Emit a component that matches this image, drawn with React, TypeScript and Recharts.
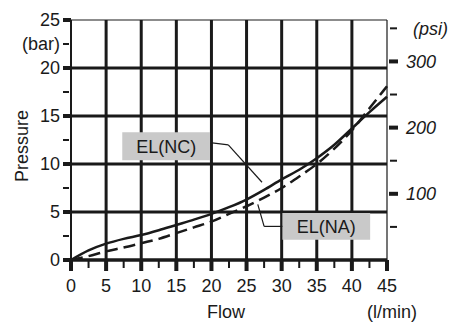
import React from 'react';
import {
  ComposedChart,
  Line,
  XAxis,
  YAxis,
  CartesianGrid,
  ReferenceArea,
  ReferenceLine,
  Label
} from 'recharts';

// flow (l/min) vs pressure drop (bar)
const flow = [0, 2.5, 5, 7.5, 10, 12.5, 15, 17.5, 20, 22.5, 25, 27.5, 30, 32.5, 35, 37.5, 40, 42.5, 45];
const elNC = [0, 1.0, 1.7, 2.2, 2.6, 3.1, 3.65, 4.2, 4.8, 5.5, 6.3, 7.3, 8.4, 9.4, 10.6, 12.0, 13.7, 15.4, 17.0];
const elNA = [0, 0.4, 0.9, 1.3, 1.75, 2.2, 2.8, 3.4, 4.0, 4.8, 5.6, 6.5, 7.5, 8.7, 10.0, 11.6, 13.5, 15.8, 18.1];

const flowTicks = [0, 2.5, 5, 7.5, 10, 12.5, 15, 17.5, 20, 22.5, 25, 27.5, 30, 32.5, 35, 37.5, 40, 42.5, 45];
const barTicks = [0, 2.5, 5, 7.5, 10, 12.5, 15, 17.5, 20, 22.5, 25];
const psiTicks = [50, 100, 150, 200, 250, 300, 350];
const gridFlow = [5, 10, 15, 20, 25, 30, 35, 40];
const gridBar = [5, 10, 15, 20];

const BAR_TO_PSI = 14.5038;

const data = flow.map((f, i) => ({
  flow: f,
  nc: elNC[i],
  na: elNA[i],
  ncPsi: elNC[i] * BAR_TO_PSI
}));

const FONT = '"Liberation Sans", Arial, sans-serif';
const INK = '#1a1a1a';
const FS = 18;

const FlowTick = (props: any) => {
  const { x, y, payload } = props;
  const v = payload.value;
  const major = v % 5 === 0;
  return (
    <g>
      <rect x={x - (major ? 2 : 1)} y={y} width={major ? 4 : 2} height={major ? 11 : 8} fill={INK} />
      {major && (
        <text x={x} y={y + 32} textAnchor="middle" fontFamily={FONT} fontSize={FS} fill={INK}>
          {v}
        </text>
      )}
    </g>
  );
};

const BarTick = (props: any) => {
  const { x, y, payload } = props;
  const v = payload.value;
  const major = v % 5 === 0;
  const text = major ? String(v) : v === 22.5 ? '(bar)' : null;
  return (
    <g>
      {major ? (
        <rect x={x - 8} y={y - 2} width={8} height={4} fill={INK} />
      ) : (
        <rect x={x - 8} y={y - 1} width={6} height={2} fill={INK} />
      )}
      {text && (
        <text x={x - 11} y={y} dy="0.35em" textAnchor="end" fontFamily={FONT} fontSize={FS} fill={INK}>
          {text}
        </text>
      )}
    </g>
  );
};

const PsiTick = (props: any) => {
  const { x, y, payload } = props;
  const v = payload.value;
  const major = v % 100 === 0;
  const text = major ? String(v) : v === 350 ? '(psi)' : null;
  return (
    <g>
      {major ? (
        <rect x={x + 2} y={y - 2} width={9} height={4} fill={INK} />
      ) : (
        <rect x={x + 3} y={y - 1} width={7} height={2} fill={INK} />
      )}
      {text && (
        <text
          x={x + (v === 350 ? 26 : 19)}
          y={y}
          dy="0.35em"
          textAnchor="start"
          fontFamily={FONT}
          fontSize={FS}
          fontStyle="italic"
          fill={INK}
        >
          {text}
        </text>
      )}
    </g>
  );
};

const BoxLabel = (props: any) => {
  const { viewBox, value } = props;
  return (
    <text
      x={viewBox.x + viewBox.width / 2}
      y={viewBox.y + viewBox.height / 2}
      dy="0.36em"
      textAnchor="middle"
      fontFamily={FONT}
      fontSize={FS}
      fill={INK}
    >
      {value}
    </text>
  );
};

const PressureLabel = (props: any) => {
  const { viewBox } = props;
  const cx = viewBox.x + 22;
  const cy = viewBox.y + 126;
  return (
    <text
      x={cx}
      y={cy}
      dy="0.35em"
      textAnchor="middle"
      transform={`rotate(-90, ${cx}, ${cy})`}
      fontFamily={FONT}
      fontSize={FS}
      fill={INK}
    >
      Pressure
    </text>
  );
};

const FlowLabel = (props: any) => {
  const { viewBox } = props;
  return (
    <g fontFamily={FONT} fontSize={FS} fill={INK}>
      <text x={viewBox.x + 155} y={viewBox.y + 58} textAnchor="middle">Flow</text>
      <text x={viewBox.x + 321} y={viewBox.y + 58} textAnchor="middle">(l/min)</text>
    </g>
  );
};

export default function App() {
  return (
    <div style={{ position: 'absolute', left: 0, top: 0, width: 467, height: 325, background: '#fff' }}>
      <ComposedChart
        width={467}
        height={325}
        data={data}
        margin={{ top: 20, right: 0, bottom: 0, left: 0 }}
      >
        <CartesianGrid
          yAxisId="bar"
          stroke={INK}
          strokeWidth={3}
          horizontalValues={gridBar}
          verticalValues={gridFlow}
        />
        <XAxis
          dataKey="flow"
          type="number"
          domain={[0, 45]}
          ticks={flowTicks}
          interval={0}
          height={65}
          tickSize={0}
          tickMargin={0}
          tickLine={false}
          tick={<FlowTick />}
          axisLine={{ stroke: INK, strokeWidth: 3.5 }}
        >
          <Label content={<FlowLabel />} />
        </XAxis>
        <YAxis
          yAxisId="bar"
          type="number"
          domain={[0, 25]}
          ticks={barTicks}
          interval={0}
          width={71}
          tickSize={0}
          tickMargin={0}
          tickLine={false}
          tick={<BarTick />}
          axisLine={{ stroke: INK, strokeWidth: 2 }}
        >
          <Label content={<PressureLabel />} />
        </YAxis>
        <YAxis
          yAxisId="psi"
          orientation="right"
          type="number"
          domain={[0, 25 * BAR_TO_PSI]}
          allowDataOverflow
          ticks={psiTicks}
          interval={0}
          width={80}
          tickSize={0}
          tickMargin={0}
          tickLine={false}
          tick={<PsiTick />}
          axisLine={false}
        />
        <ReferenceLine yAxisId="bar" y={25} stroke={INK} strokeWidth={1.2} />
        <ReferenceLine yAxisId="bar" x={45} stroke={INK} strokeWidth={1.2} />

        <ReferenceArea
          yAxisId="bar"
          x1={7.3}
          x2={19.8}
          y1={10.4}
          y2={13.3}
          fill="#c9c9c9"
          fillOpacity={1}
          stroke="none"
          label={<BoxLabel value="EL(NC)" />}
        />
        <ReferenceArea
          yAxisId="bar"
          x1={30.1}
          x2={42.6}
          y1={2.1}
          y2={4.9}
          fill="#c9c9c9"
          fillOpacity={1}
          stroke="none"
          label={<BoxLabel value="EL(NA)" />}
        />
        <ReferenceLine
          yAxisId="bar"
          segment={[{ x: 20.1, y: 12.2 }, { x: 22.4, y: 12.0 }]}
          stroke={INK}
          strokeWidth={1.2}
        />
        <ReferenceLine
          yAxisId="bar"
          segment={[{ x: 22.4, y: 12.0 }, { x: 27.2, y: 8.1 }]}
          stroke={INK}
          strokeWidth={1.2}
        />
        <ReferenceLine
          yAxisId="bar"
          segment={[{ x: 26.6, y: 5.8 }, { x: 27.5, y: 3.5 }]}
          stroke={INK}
          strokeWidth={1.2}
        />
        <ReferenceLine
          yAxisId="bar"
          segment={[{ x: 27.5, y: 3.5 }, { x: 30.1, y: 3.5 }]}
          stroke={INK}
          strokeWidth={1.2}
        />

        {/* invisible series so the psi axis gets registered */}
        <Line
          yAxisId="psi"
          dataKey="ncPsi"
          stroke="none"
          dot={false}
          activeDot={false}
          isAnimationActive={false}
        />
        <Line
          yAxisId="bar"
          type="monotone"
          dataKey="nc"
          stroke={INK}
          strokeWidth={2.5}
          dot={false}
          isAnimationActive={false}
        />
        <Line
          yAxisId="bar"
          type="monotone"
          dataKey="na"
          stroke={INK}
          strokeWidth={2.5}
          strokeDasharray="12 6"
          dot={false}
          isAnimationActive={false}
        />
      </ComposedChart>
    </div>
  );
}
